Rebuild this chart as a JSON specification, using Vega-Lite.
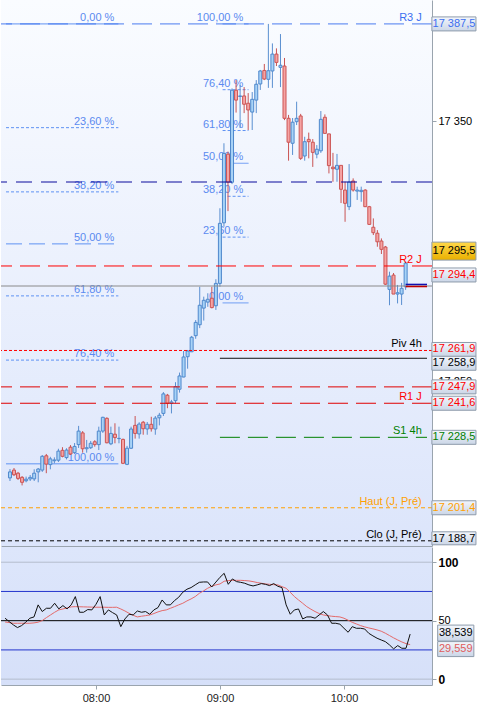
{
 "$schema": "https://vega.github.io/schema/vega-lite/v6.json",
 "padding": 0,
 "autosize": {"type": "pad"},
 "background": "#ffffff",
 "spacing": 1,
 "bounds": "flush",
 "config": {
  "font": "Liberation Sans",
  "view": {"stroke": null},
  "locale": {"number": {"decimal": ",", "thousands": " ", "grouping": [3], "currency": ["", " €"]}},
  "text": {"font": "Liberation Sans", "fontSize": 11}
 },
 "datasets": {
  "bars": [
   {"t":"2024-01-15T07:16","o":17212.9,"h":17216.3,"l":17211.7,"c":17215.2,"osc":52.1,"sig":48.9},
   {"t":"2024-01-15T07:18","o":17215.9,"h":17216.7,"l":17213.6,"c":17214.1,"osc":49.2,"sig":48.4},
   {"t":"2024-01-15T07:20","o":17214.7,"h":17215.2,"l":17212.1,"c":17212.7,"osc":46.4,"sig":47.8},
   {"t":"2024-01-15T07:22","o":17213.1,"h":17213.6,"l":17210.0,"c":17211.2,"osc":44.1,"sig":47.8},
   {"t":"2024-01-15T07:24","o":17211.8,"h":17213.4,"l":17211.2,"c":17212.4,"osc":45.8,"sig":47.8},
   {"t":"2024-01-15T07:26","o":17212.5,"h":17214.0,"l":17211.7,"c":17213.1,"osc":48.7,"sig":47.8},
   {"t":"2024-01-15T07:28","o":17212.5,"h":17216.2,"l":17211.7,"c":17214.7,"osc":52.1,"sig":47.8},
   {"t":"2024-01-15T07:30","o":17215.2,"h":17216.7,"l":17211.2,"c":17216.3,"osc":53.2,"sig":48.1},
   {"t":"2024-01-15T07:32","o":17215.9,"h":17221.7,"l":17215.2,"c":17221.2,"osc":63.5,"sig":48.7},
   {"t":"2024-01-15T07:34","o":17221.4,"h":17222.1,"l":17214.7,"c":17218.2,"osc":57.8,"sig":50.1},
   {"t":"2024-01-15T07:36","o":17218.0,"h":17221.0,"l":17216.2,"c":17220.2,"osc":60.6,"sig":52.6},
   {"t":"2024-01-15T07:38","o":17219.5,"h":17220.8,"l":17218.5,"c":17219.8,"osc":60.6,"sig":54.9},
   {"t":"2024-01-15T07:40","o":17219.7,"h":17224.1,"l":17219.0,"c":17223.2,"osc":64.9,"sig":57.2},
   {"t":"2024-01-15T07:42","o":17223.5,"h":17224.7,"l":17220.8,"c":17221.2,"osc":60.1,"sig":59.2},
   {"t":"2024-01-15T07:44","o":17220.7,"h":17224.3,"l":17220.0,"c":17223.6,"osc":62.9,"sig":60.0},
   {"t":"2024-01-15T07:46","o":17224.7,"h":17225.5,"l":17221.7,"c":17222.1,"osc":60.1,"sig":60.9},
   {"t":"2024-01-15T07:48","o":17222.6,"h":17226.3,"l":17222.1,"c":17225.0,"osc":63.5,"sig":61.8},
   {"t":"2024-01-15T07:50","o":17225.7,"h":17232.9,"l":17224.4,"c":17230.9,"osc":70.6,"sig":62.0},
   {"t":"2024-01-15T07:52","o":17230.2,"h":17230.9,"l":17222.6,"c":17224.1,"osc":57.2,"sig":61.9},
   {"t":"2024-01-15T07:54","o":17224.1,"h":17227.5,"l":17222.6,"c":17224.5,"osc":57.2,"sig":61.8},
   {"t":"2024-01-15T07:56","o":17224.5,"h":17227.1,"l":17224.0,"c":17226.2,"osc":59.5,"sig":61.7},
   {"t":"2024-01-15T07:58","o":17226.8,"h":17227.4,"l":17224.9,"c":17225.7,"osc":59.2,"sig":61.6},
   {"t":"2024-01-15T08:00","o":17225.7,"h":17232.6,"l":17223.6,"c":17230.9,"osc":64.0,"sig":61.5},
   {"t":"2024-01-15T08:02","o":17230.9,"h":17236.4,"l":17230.2,"c":17236.2,"osc":70.6,"sig":61.5},
   {"t":"2024-01-15T08:04","o":17235.8,"h":17236.2,"l":17226.2,"c":17226.4,"osc":54.9,"sig":61.5},
   {"t":"2024-01-15T08:06","o":17226.0,"h":17232.6,"l":17225.5,"c":17230.0,"osc":59.2,"sig":61.4},
   {"t":"2024-01-15T08:08","o":17229.7,"h":17233.9,"l":17226.2,"c":17228.4,"osc":56.9,"sig":61.4},
   {"t":"2024-01-15T08:10","o":17228.0,"h":17232.6,"l":17226.2,"c":17228.1,"osc":54.9,"sig":61.5},
   {"t":"2024-01-15T08:12","o":17227.7,"h":17228.0,"l":17218.2,"c":17218.5,"osc":44.9,"sig":60.0},
   {"t":"2024-01-15T08:14","o":17218.1,"h":17225.2,"l":17217.8,"c":17224.3,"osc":51.5,"sig":58.3},
   {"t":"2024-01-15T08:16","o":17224.3,"h":17232.6,"l":17224.0,"c":17231.7,"osc":55.5,"sig":56.3},
   {"t":"2024-01-15T08:18","o":17233.1,"h":17236.7,"l":17228.0,"c":17230.0,"osc":54.9,"sig":54.6},
   {"t":"2024-01-15T08:20","o":17229.8,"h":17234.3,"l":17228.0,"c":17233.6,"osc":58.3,"sig":53.2},
   {"t":"2024-01-15T08:22","o":17234.3,"h":17234.8,"l":17229.5,"c":17231.8,"osc":57.2,"sig":53.8},
   {"t":"2024-01-15T08:24","o":17231.7,"h":17234.4,"l":17229.5,"c":17233.5,"osc":57.8,"sig":54.3},
   {"t":"2024-01-15T08:26","o":17233.5,"h":17236.4,"l":17230.7,"c":17231.8,"osc":55.5,"sig":54.9},
   {"t":"2024-01-15T08:28","o":17231.7,"h":17236.7,"l":17229.5,"c":17235.9,"osc":59.2,"sig":56.1},
   {"t":"2024-01-15T08:30","o":17236.0,"h":17237.9,"l":17233.1,"c":17237.0,"osc":61.2,"sig":57.5},
   {"t":"2024-01-15T08:32","o":17237.7,"h":17245.9,"l":17236.7,"c":17245.2,"osc":67.7,"sig":58.6},
   {"t":"2024-01-15T08:34","o":17244.7,"h":17245.2,"l":17239.7,"c":17241.6,"osc":63.5,"sig":59.2},
   {"t":"2024-01-15T08:36","o":17241.6,"h":17242.9,"l":17237.7,"c":17242.1,"osc":63.5,"sig":60.6},
   {"t":"2024-01-15T08:38","o":17242.6,"h":17249.7,"l":17241.6,"c":17248.0,"osc":67.2,"sig":62.0},
   {"t":"2024-01-15T08:40","o":17247.0,"h":17253.4,"l":17245.7,"c":17252.1,"osc":70.0,"sig":63.5},
   {"t":"2024-01-15T08:42","o":17251.7,"h":17261.7,"l":17251.6,"c":17259.4,"osc":74.3,"sig":64.9},
   {"t":"2024-01-15T08:44","o":17259.5,"h":17262.1,"l":17254.9,"c":17261.7,"osc":76.9,"sig":66.9},
   {"t":"2024-01-15T08:46","o":17261.4,"h":17267.5,"l":17261.3,"c":17267.0,"osc":78.3,"sig":68.6},
   {"t":"2024-01-15T08:48","o":17267.6,"h":17273.6,"l":17266.4,"c":17272.7,"osc":80.6,"sig":70.6},
   {"t":"2024-01-15T08:50","o":17271.8,"h":17286.4,"l":17270.5,"c":17279.3,"osc":82.8,"sig":73.4},
   {"t":"2024-01-15T08:52","o":17278.2,"h":17282.6,"l":17273.4,"c":17281.2,"osc":83.1,"sig":75.4},
   {"t":"2024-01-15T08:54","o":17280.5,"h":17283.9,"l":17278.7,"c":17281.6,"osc":83.1,"sig":77.7},
   {"t":"2024-01-15T08:56","o":17282.0,"h":17286.4,"l":17278.1,"c":17278.4,"osc":78.8,"sig":79.4},
   {"t":"2024-01-15T08:58","o":17279.1,"h":17289.3,"l":17277.5,"c":17287.7,"osc":83.0,"sig":80.6},
   {"t":"2024-01-15T09:00","o":17287.7,"h":17316.6,"l":17286.4,"c":17310.8,"osc":87.1,"sig":81.4},
   {"t":"2024-01-15T09:02","o":17311.0,"h":17341.6,"l":17309.5,"c":17337.7,"osc":90.5,"sig":83.7},
   {"t":"2024-01-15T09:04","o":17337.4,"h":17338.4,"l":17315.5,"c":17326.6,"osc":81.1,"sig":84.3},
   {"t":"2024-01-15T09:06","o":17326.6,"h":17362.7,"l":17325.9,"c":17362.0,"osc":85.7,"sig":84.5},
   {"t":"2024-01-15T09:08","o":17362.0,"h":17365.9,"l":17353.4,"c":17358.2,"osc":83.4,"sig":84.5},
   {"t":"2024-01-15T09:10","o":17359.6,"h":17364.0,"l":17347.5,"c":17359.8,"osc":82.8,"sig":84.5},
   {"t":"2024-01-15T09:12","o":17359.8,"h":17363.2,"l":17353.2,"c":17356.6,"osc":82.0,"sig":84.3},
   {"t":"2024-01-15T09:14","o":17357.0,"h":17360.9,"l":17346.7,"c":17354.4,"osc":80.6,"sig":84.0},
   {"t":"2024-01-15T09:16","o":17353.6,"h":17361.3,"l":17346.7,"c":17358.5,"osc":79.7,"sig":83.4},
   {"t":"2024-01-15T09:18","o":17358.2,"h":17365.9,"l":17353.2,"c":17364.3,"osc":80.6,"sig":82.6},
   {"t":"2024-01-15T09:20","o":17364.4,"h":17369.8,"l":17362.1,"c":17369.4,"osc":81.7,"sig":82.0},
   {"t":"2024-01-15T09:22","o":17369.6,"h":17372.1,"l":17365.9,"c":17366.3,"osc":81.1,"sig":81.4},
   {"t":"2024-01-15T09:24","o":17366.2,"h":17387.5,"l":17362.9,"c":17369.5,"osc":80.0,"sig":81.1},
   {"t":"2024-01-15T09:26","o":17369.4,"h":17380.0,"l":17362.9,"c":17375.9,"osc":81.7,"sig":80.8},
   {"t":"2024-01-15T09:28","o":17375.9,"h":17378.1,"l":17371.3,"c":17372.7,"osc":79.4,"sig":80.6},
   {"t":"2024-01-15T09:30","o":17370.8,"h":17383.6,"l":17363.2,"c":17371.6,"osc":78.3,"sig":79.1},
   {"t":"2024-01-15T09:32","o":17371.3,"h":17374.4,"l":17350.5,"c":17351.2,"osc":63.5,"sig":77.7},
   {"t":"2024-01-15T09:34","o":17351.2,"h":17352.5,"l":17334.9,"c":17342.0,"osc":55.5,"sig":74.3},
   {"t":"2024-01-15T09:36","o":17341.6,"h":17351.3,"l":17337.1,"c":17349.7,"osc":59.2,"sig":70.6},
   {"t":"2024-01-15T09:38","o":17349.9,"h":17357.6,"l":17348.6,"c":17351.2,"osc":60.0,"sig":67.7},
   {"t":"2024-01-15T09:40","o":17352.1,"h":17352.9,"l":17335.2,"c":17335.8,"osc":51.5,"sig":64.9},
   {"t":"2024-01-15T09:42","o":17336.7,"h":17344.1,"l":17334.9,"c":17342.2,"osc":53.2,"sig":62.0},
   {"t":"2024-01-15T09:44","o":17343.1,"h":17345.7,"l":17335.8,"c":17342.2,"osc":53.2,"sig":59.8},
   {"t":"2024-01-15T09:46","o":17342.0,"h":17343.2,"l":17332.5,"c":17338.1,"osc":52.1,"sig":57.8},
   {"t":"2024-01-15T09:48","o":17337.4,"h":17340.9,"l":17335.8,"c":17339.3,"osc":54.9,"sig":56.1},
   {"t":"2024-01-15T09:50","o":17338.7,"h":17354.0,"l":17337.9,"c":17350.8,"osc":57.8,"sig":54.9},
   {"t":"2024-01-15T09:52","o":17351.6,"h":17352.7,"l":17345.4,"c":17345.4,"osc":54.9,"sig":54.3},
   {"t":"2024-01-15T09:54","o":17345.2,"h":17345.2,"l":17330.0,"c":17333.0,"osc":47.8,"sig":53.8},
   {"t":"2024-01-15T09:56","o":17332.4,"h":17337.9,"l":17326.8,"c":17331.8,"osc":47.8,"sig":53.5},
   {"t":"2024-01-15T09:58","o":17331.6,"h":17337.5,"l":17326.8,"c":17333.1,"osc":47.0,"sig":53.2},
   {"t":"2024-01-15T10:00","o":17333.1,"h":17333.1,"l":17318.6,"c":17323.9,"osc":43.5,"sig":52.1},
   {"t":"2024-01-15T10:02","o":17323.6,"h":17326.8,"l":17311.4,"c":17318.5,"osc":40.1,"sig":50.4},
   {"t":"2024-01-15T10:04","o":17317.2,"h":17333.6,"l":17315.9,"c":17326.7,"osc":44.9,"sig":48.6},
   {"t":"2024-01-15T10:06","o":17327.1,"h":17328.1,"l":17323.0,"c":17323.6,"osc":43.5,"sig":47.2},
   {"t":"2024-01-15T10:08","o":17323.2,"h":17324.9,"l":17319.8,"c":17323.6,"osc":43.5,"sig":45.8},
   {"t":"2024-01-15T10:10","o":17323.0,"h":17324.9,"l":17319.1,"c":17323.5,"osc":42.9,"sig":44.7},
   {"t":"2024-01-15T10:12","o":17323.6,"h":17323.9,"l":17317.1,"c":17317.2,"osc":39.2,"sig":43.8},
   {"t":"2024-01-15T10:14","o":17317.2,"h":17317.5,"l":17310.2,"c":17310.4,"osc":37.0,"sig":43.0},
   {"t":"2024-01-15T10:16","o":17309.3,"h":17312.7,"l":17306.3,"c":17307.2,"osc":35.0,"sig":42.1},
   {"t":"2024-01-15T10:18","o":17307.0,"h":17308.2,"l":17301.8,"c":17303.7,"osc":33.5,"sig":41.0},
   {"t":"2024-01-15T10:20","o":17304.0,"h":17305.0,"l":17299.0,"c":17300.8,"osc":32.1,"sig":39.3},
   {"t":"2024-01-15T10:22","o":17301.7,"h":17302.1,"l":17287.1,"c":17287.4,"osc":29.3,"sig":37.3},
   {"t":"2024-01-15T10:24","o":17285.4,"h":17292.2,"l":17279.3,"c":17290.5,"osc":25.9,"sig":35.3},
   {"t":"2024-01-15T10:26","o":17290.9,"h":17291.7,"l":17283.6,"c":17283.6,"osc":28.7,"sig":33.5},
   {"t":"2024-01-15T10:28","o":17283.6,"h":17287.1,"l":17280.0,"c":17284.1,"osc":26.4,"sig":31.8},
   {"t":"2024-01-15T10:30","o":17283.6,"h":17287.9,"l":17279.4,"c":17285.8,"osc":26.4,"sig":30.4},
   {"t":"2024-01-15T10:32","o":17286.4,"h":17296.0,"l":17285.2,"c":17295.5,"osc":38.539,"sig":29.559}
  ],
  "pivFull": [
   {"name":"R3 J","p":17387.5},
   {"name":"Nav","p":17326.7},
   {"name":"R2 J","p":17294.4},
   {"name":"Gray","p":17286.7},
   {"name":"Piv 4h","p":17261.9},
   {"name":"R4h","p":17247.9},
   {"name":"R1 J","p":17241.6},
   {"name":"Haut (J, Pré)","p":17201.4},
   {"name":"Clo (J, Pré)","p":17188.7}
  ],
  "pivPart": [
   {"name":"Pivline","p":17258.9},
   {"name":"S1 4h","p":17228.5}
  ],
  "pivLabels": [
   {"name":"R3 J","p":17387.5},
   {"name":"R2 J","p":17294.4},
   {"name":"Piv 4h","p":17261.9},
   {"name":"R1 J","p":17241.6},
   {"name":"S1 4h","p":17228.5},
   {"name":"Haut (J, Pré)","p":17201.4},
   {"name":"Clo (J, Pré)","p":17188.7}
  ],
  "lastMark": [
   {"name":"bid","p":17287.3},
   {"name":"ask","p":17286.5}
  ],
  "fibL": [
   {"pct":"0,00 %","p":17387.5},
   {"pct":"23,60 %","p":17347.6},
   {"pct":"38,20 %","p":17322.9},
   {"pct":"50,00 %","p":17302.9},
   {"pct":"61,80 %","p":17282.9},
   {"pct":"76,40 %","p":17258.2},
   {"pct":"100,00 %","p":17218.3}
  ],
  "fibR": [
   {"pct":"100,00 %","p":17387.5},
   {"pct":"76,40 %","p":17362.2},
   {"pct":"61,80 %","p":17346.5},
   {"pct":"50,00 %","p":17333.9},
   {"pct":"38,20 %","p":17321.2},
   {"pct":"23,60 %","p":17305.5},
   {"pct":"0,00 %","p":17280.2}
  ],
  "tags": [
   {"name":"R3 J","p":17387.5},
   {"name":"Last","p":17295.5},
   {"name":"R2 J","p":17294.4},
   {"name":"Piv 4h","p":17261.9},
   {"name":"Pivline","p":17258.9},
   {"name":"R4h","p":17247.9},
   {"name":"R1 J","p":17241.6},
   {"name":"S1 4h","p":17228.5},
   {"name":"Haut","p":17201.4},
   {"name":"Clo","p":17188.7}
  ],
  "oscLevels": [{"v":100},{"v":75},{"v":50},{"v":25},{"v":0}],
  "oscTags": [{"name":"osc","v":38.539},{"name":"sig","v":29.559}]
 },
 "vconcat": [
  {
   "width": 431,
   "height": 546,
   "resolve": {"scale": {"color": "independent", "strokeDash": "independent"}, "axis": {"x": "independent", "y": "independent"}},
   "layer": [
    {
     "data": {"values": [{}]},
     "mark": {"type": "rect", "fill": {"gradient": "linear", "x1": 0, "y1": 0, "x2": 0, "y2": 1, "stops": [{"offset": 0, "color": "#fafcff"}, {"offset": 1, "color": "#dce5fb"}]}},
     "encoding": {}
    },
    {
     "data": {"name": "fibL"},
     "mark": {"type": "rule", "strokeWidth": 1, "color": "#5f92f3"},
     "encoding": {
      "x": {"datum": {"year":2024,"month":1,"date":15,"hours":7,"minutes":14,"seconds":2}, "type": "temporal", "axis": null},
      "x2": {"datum": {"year":2024,"month":1,"date":15,"hours":8,"minutes":9,"seconds":42}},
      "y": {"field": "p", "type": "quantitative", "axis": null},
      "strokeDash": {"field": "pct", "type": "nominal", "legend": null, "scale": {"domain": ["0,00 %","23,60 %","38,20 %","50,00 %","61,80 %","76,40 %","100,00 %"], "range": [[1,0],[3,2],[3,2],[16,7],[3,2],[3,2],[1,0]]}}
     }
    },
    {
     "data": {"name": "fibR"},
     "mark": {"type": "rule", "strokeWidth": 1, "color": "#5f92f3"},
     "encoding": {
      "x": {"datum": {"year":2024,"month":1,"date":15,"hours":9,"minutes":1,"seconds":20}, "type": "temporal", "axis": null},
      "x2": {"datum": {"year":2024,"month":1,"date":15,"hours":9,"minutes":14,"seconds":10}},
      "y": {"field": "p", "type": "quantitative", "axis": null},
      "strokeDash": {"field": "pct", "type": "nominal", "legend": null, "scale": {"domain": ["0,00 %","23,60 %","38,20 %","50,00 %","61,80 %","76,40 %","100,00 %"], "range": [[1,0],[3,2],[3,2],[1,0],[3,2],[3,2],[1,0]]}}
     }
    },
    {
     "data": {"name": "fibL"},
     "mark": {"type": "text", "align": "right", "baseline": "bottom", "dy": -1, "color": "#5b8af0", "fontSize": 11},
     "encoding": {
      "x": {"datum": {"year":2024,"month":1,"date":15,"hours":8,"minutes":7,"seconds":42}, "type": "temporal", "axis": null},
      "y": {"field": "p", "type": "quantitative", "axis": null},
      "text": {"field": "pct"}
     }
    },
    {
     "data": {"name": "fibR"},
     "mark": {"type": "text", "align": "right", "baseline": "bottom", "dy": -1, "color": "#5b8af0", "fontSize": 11},
     "encoding": {
      "x": {"datum": {"year":2024,"month":1,"date":15,"hours":9,"minutes":11,"seconds":36}, "type": "temporal", "axis": null},
      "y": {"field": "p", "type": "quantitative", "axis": null},
      "text": {"field": "pct"}
     }
    },
    {
     "data": {"name": "bars"},
     "mark": {"type": "rule", "strokeWidth": 1},
     "encoding": {
      "x": {"field": "t", "type": "temporal",
            "scale": {"domain": [{"year":2024,"month":1,"date":15,"hours":7,"minutes":14,"seconds":2}, {"year":2024,"month":1,"date":15,"hours":10,"minutes":42,"seconds":35}], "nice": false},
            "axis": {"labels": false, "ticks": false, "grid": false, "title": null, "domain": true, "domainColor": "#9aa4ae"}},
      "y": {"field": "l", "type": "quantitative",
            "scale": {"domain": [17186.7, 17396.7], "zero": false, "nice": false},
            "axis": {"orient": "right", "values": [17250, 17350], "format": ",.0f", "title": null, "grid": false, "domainColor": "#9aa4ae", "tickColor": "#9aa4ae", "tickSize": 4, "labelPadding": 2, "labelColor": "#000000", "labelFontSize": 11, "labelFont": "Liberation Sans"}},
      "y2": {"field": "h"},
      "color": {"condition": {"test": "datum.c >= datum.o", "value": "#5a8fd0"}, "value": "#c95353"}
     }
    },
    {
     "data": {"name": "bars"},
     "mark": {"type": "bar", "size": 3, "strokeWidth": 1},
     "encoding": {
      "x": {"field": "t", "type": "temporal", "axis": null},
      "y": {"field": "o", "type": "quantitative", "axis": null},
      "y2": {"field": "c"},
      "fill": {"condition": {"test": "datum.c >= datum.o", "value": "#a8d3f7"}, "value": "#f5a4a4"},
      "stroke": {"condition": {"test": "datum.c >= datum.o", "value": "#4f88cc"}, "value": "#cc5555"}
     }
    },
    {
     "data": {"name": "pivFull"},
     "mark": {"type": "rule", "strokeWidth": 1},
     "encoding": {
      "y": {"field": "p", "type": "quantitative", "axis": null},
      "color": {"field": "name", "type": "nominal", "legend": null, "scale": {"domain": ["R3 J","Nav","R2 J","Gray","Piv 4h","R4h","R1 J","Haut (J, Pré)","Clo (J, Pré)"], "range": ["#4a7cf0","#0a0a9c","#ff0000","#8a8a8a","#ff0000","#e00000","#e00000","#ffa000","#000000"]}},
      "strokeDash": {"field": "name", "type": "nominal", "legend": null, "scale": {"domain": ["R3 J","Nav","R2 J","Gray","Piv 4h","R4h","R1 J","Haut (J, Pré)","Clo (J, Pré)"], "range": [[20,8],[16,9],[20,8],[1,0],[3,2],[20,8],[20,8],[4,3],[4,3]]}}
     }
    },
    {
     "data": {"name": "pivPart"},
     "mark": {"type": "rule", "strokeWidth": 1},
     "encoding": {
      "x": {"datum": {"year":2024,"month":1,"date":15,"hours":9,"minutes":0}, "type": "temporal", "axis": null},
      "x2": {"datum": {"year":2024,"month":1,"date":15,"hours":10,"minutes":42,"seconds":35}},
      "y": {"field": "p", "type": "quantitative", "axis": null},
      "color": {"field": "name", "type": "nominal", "legend": null, "scale": {"domain": ["Pivline","S1 4h"], "range": ["#000000","#008000"]}},
      "strokeDash": {"field": "name", "type": "nominal", "legend": null, "scale": {"domain": ["Pivline","S1 4h"], "range": [[1,0],[20,8]]}}
     }
    },
    {
     "data": {"name": "lastMark"},
     "mark": {"type": "rule", "strokeWidth": 1.5},
     "encoding": {
      "x": {"datum": {"year":2024,"month":1,"date":15,"hours":10,"minutes":32}, "type": "temporal", "axis": null},
      "x2": {"datum": {"year":2024,"month":1,"date":15,"hours":10,"minutes":42,"seconds":35}},
      "y": {"field": "p", "type": "quantitative", "axis": null},
      "color": {"field": "name", "type": "nominal", "legend": null, "scale": {"domain": ["bid","ask"], "range": ["#1010b0","#c00000"]}}
     }
    },
    {
     "data": {"name": "pivLabels"},
     "mark": {"type": "text", "align": "right", "baseline": "bottom", "dy": -1, "fontSize": 11},
     "encoding": {
      "x": {"datum": {"year":2024,"month":1,"date":15,"hours":10,"minutes":40}, "type": "temporal", "axis": null},
      "y": {"field": "p", "type": "quantitative", "axis": null},
      "text": {"field": "name"},
      "color": {"field": "name", "type": "nominal", "legend": null, "scale": {"domain": ["R3 J","R2 J","Piv 4h","R1 J","S1 4h","Haut (J, Pré)","Clo (J, Pré)"], "range": ["#3b6ef0","#ff0000","#000000","#ff0000","#008000","#ffa000","#000000"]}}
     }
    },
    {
     "data": {"name": "tags"},
     "transform": [{"filter": "indexof(['Last','R2 J','Piv 4h','Pivline','Clo'], datum.name) < 0"}],
     "layer": [
      {
       "mark": {"type": "rect", "yOffset": -7, "y2Offset": 7, "stroke": "#8e9bab", "strokeWidth": 1, "fill": {"gradient": "linear", "x1": 0, "y1": 0, "x2": 0, "y2": 1, "stops": [{"offset": 0, "color": "#f3f6fc"}, {"offset": 1, "color": "#cbd6e7"}]}},
       "encoding": {
        "x": {"datum": {"year":2024,"month":1,"date":15,"hours":10,"minutes":45}, "type": "temporal", "axis": null},
        "x2": {"datum": {"year":2024,"month":1,"date":15,"hours":11,"minutes":6,"seconds":50}},
        "y": {"field": "p", "type": "quantitative", "axis": null},
        "y2": {"field": "p"}
       }
      },
      {
       "mark": {"type": "text", "align": "center", "baseline": "middle", "fontSize": 11},
       "encoding": {
        "x": {"datum": {"year":2024,"month":1,"date":15,"hours":10,"minutes":55,"seconds":55}, "type": "temporal", "axis": null},
        "y": {"field": "p", "type": "quantitative", "axis": null},
        "text": {"field": "p", "type": "quantitative", "format": ",.1f"},
        "color": {"field": "name", "type": "nominal", "legend": null, "scale": {"domain": ["R3 J","R4h","R1 J","S1 4h","Haut"], "range": ["#3b6ef0","#ff0000","#ff0000","#008000","#ffa000"]}}
       }
      }
     ]
    },
    {
     "data": {"name": "tags"},
     "transform": [{"filter": "datum.name == 'Clo'"}],
     "layer": [
      {
       "mark": {"type": "rect", "yOffset": -9, "y2Offset": 4, "stroke": "#8e9bab", "strokeWidth": 1, "fill": {"gradient": "linear", "x1": 0, "y1": 0, "x2": 0, "y2": 1, "stops": [{"offset": 0, "color": "#f3f6fc"}, {"offset": 1, "color": "#cbd6e7"}]}},
       "encoding": {
        "x": {"datum": {"year":2024,"month":1,"date":15,"hours":10,"minutes":45}, "type": "temporal", "axis": null},
        "x2": {"datum": {"year":2024,"month":1,"date":15,"hours":11,"minutes":6,"seconds":50}},
        "y": {"field": "p", "type": "quantitative", "axis": null},
        "y2": {"field": "p"}
       }
      },
      {
       "mark": {"type": "text", "align": "center", "baseline": "middle", "fontSize": 11, "dy": -2, "color": "#000000"},
       "encoding": {
        "x": {"datum": {"year":2024,"month":1,"date":15,"hours":10,"minutes":55,"seconds":55}, "type": "temporal", "axis": null},
        "y": {"field": "p", "type": "quantitative", "axis": null},
        "text": {"field": "p", "type": "quantitative", "format": ",.1f"}
       }
      }
     ]
    },
    {
     "data": {"name": "tags"},
     "transform": [{"filter": "datum.name == 'R2 J'"}],
     "layer": [
      {
       "mark": {"type": "rect", "yOffset": 2, "y2Offset": 16, "stroke": "#8e9bab", "strokeWidth": 1, "fill": {"gradient": "linear", "x1": 0, "y1": 0, "x2": 0, "y2": 1, "stops": [{"offset": 0, "color": "#f3f6fc"}, {"offset": 1, "color": "#cbd6e7"}]}},
       "encoding": {
        "x": {"datum": {"year":2024,"month":1,"date":15,"hours":10,"minutes":45}, "type": "temporal", "axis": null},
        "x2": {"datum": {"year":2024,"month":1,"date":15,"hours":11,"minutes":6,"seconds":50}},
        "y": {"field": "p", "type": "quantitative", "axis": null},
        "y2": {"field": "p"}
       }
      },
      {
       "mark": {"type": "text", "align": "center", "baseline": "middle", "fontSize": 11, "dy": 9, "color": "#ff0000"},
       "encoding": {
        "x": {"datum": {"year":2024,"month":1,"date":15,"hours":10,"minutes":55,"seconds":55}, "type": "temporal", "axis": null},
        "y": {"field": "p", "type": "quantitative", "axis": null},
        "text": {"field": "p", "type": "quantitative", "format": ",.1f"}
       }
      }
     ]
    },
    {
     "data": {"name": "tags"},
     "transform": [{"filter": "datum.name == 'Piv 4h'"}],
     "layer": [
      {
       "mark": {"type": "rect", "yOffset": -8, "y2Offset": 6, "stroke": "#8e9bab", "strokeWidth": 1, "fill": {"gradient": "linear", "x1": 0, "y1": 0, "x2": 0, "y2": 1, "stops": [{"offset": 0, "color": "#f3f6fc"}, {"offset": 1, "color": "#cbd6e7"}]}},
       "encoding": {
        "x": {"datum": {"year":2024,"month":1,"date":15,"hours":10,"minutes":45}, "type": "temporal", "axis": null},
        "x2": {"datum": {"year":2024,"month":1,"date":15,"hours":11,"minutes":6,"seconds":50}},
        "y": {"field": "p", "type": "quantitative", "axis": null},
        "y2": {"field": "p"}
       }
      },
      {
       "mark": {"type": "text", "align": "center", "baseline": "middle", "fontSize": 11, "dy": -1, "color": "#ff0000"},
       "encoding": {
        "x": {"datum": {"year":2024,"month":1,"date":15,"hours":10,"minutes":55,"seconds":55}, "type": "temporal", "axis": null},
        "y": {"field": "p", "type": "quantitative", "axis": null},
        "text": {"field": "p", "type": "quantitative", "format": ",.1f"}
       }
      }
     ]
    },
    {
     "data": {"name": "tags"},
     "transform": [{"filter": "datum.name == 'Pivline'"}],
     "layer": [
      {
       "mark": {"type": "rect", "yOffset": -2, "y2Offset": 12, "stroke": "#8e9bab", "strokeWidth": 1, "fill": {"gradient": "linear", "x1": 0, "y1": 0, "x2": 0, "y2": 1, "stops": [{"offset": 0, "color": "#f3f6fc"}, {"offset": 1, "color": "#cbd6e7"}]}},
       "encoding": {
        "x": {"datum": {"year":2024,"month":1,"date":15,"hours":10,"minutes":45}, "type": "temporal", "axis": null},
        "x2": {"datum": {"year":2024,"month":1,"date":15,"hours":11,"minutes":6,"seconds":50}},
        "y": {"field": "p", "type": "quantitative", "axis": null},
        "y2": {"field": "p"}
       }
      },
      {
       "mark": {"type": "text", "align": "center", "baseline": "middle", "fontSize": 11, "dy": 5, "color": "#000000"},
       "encoding": {
        "x": {"datum": {"year":2024,"month":1,"date":15,"hours":10,"minutes":55,"seconds":55}, "type": "temporal", "axis": null},
        "y": {"field": "p", "type": "quantitative", "axis": null},
        "text": {"field": "p", "type": "quantitative", "format": ",.1f"}
       }
      }
     ]
    },
    {
     "data": {"name": "tags"},
     "transform": [{"filter": "datum.name == 'Last'"}],
     "layer": [
      {
       "mark": {"type": "rect", "yOffset": -21, "y2Offset": -3, "stroke": "#8e9bab", "strokeWidth": 1, "fill": {"gradient": "linear", "x1": 0, "y1": 0, "x2": 0, "y2": 1, "stops": [{"offset": 0, "color": "#ffd84a"}, {"offset": 1, "color": "#e9b000"}]}},
       "encoding": {
        "x": {"datum": {"year":2024,"month":1,"date":15,"hours":10,"minutes":45}, "type": "temporal", "axis": null},
        "x2": {"datum": {"year":2024,"month":1,"date":15,"hours":11,"minutes":6,"seconds":50}},
        "y": {"field": "p", "type": "quantitative", "axis": null},
        "y2": {"field": "p"}
       }
      },
      {
       "mark": {"type": "text", "align": "center", "baseline": "middle", "fontSize": 11, "dy": -12, "color": "#000000"},
       "encoding": {
        "x": {"datum": {"year":2024,"month":1,"date":15,"hours":10,"minutes":55,"seconds":55}, "type": "temporal", "axis": null},
        "y": {"field": "p", "type": "quantitative", "axis": null},
        "text": {"field": "p", "type": "quantitative", "format": ",.1f"}
       }
      }
     ]
    }
   ]
  },
  {
   "width": 431,
   "height": 138,
   "resolve": {"scale": {"color": "independent"}, "axis": {"x": "independent", "y": "independent"}},
   "layer": [
    {
     "data": {"values": [{}]},
     "mark": {"type": "rect", "fill": {"gradient": "linear", "x1": 0, "y1": 0, "x2": 0, "y2": 1, "stops": [{"offset": 0, "color": "#dde6fb"}, {"offset": 1, "color": "#d6e0f9"}]}},
     "encoding": {}
    },
    {
     "data": {"name": "oscLevels"},
     "mark": {"type": "rule", "strokeWidth": 1},
     "encoding": {
      "y": {"field": "v", "type": "quantitative",
            "scale": {"domain": [-5, 113], "zero": false, "nice": false},
            "axis": {"orient": "right", "values": [0, 50, 100], "title": null, "grid": false, "domainColor": "#9aa4ae", "tickColor": "#9aa4ae", "tickSize": 4, "labelPadding": 2, "labelColor": "#000000", "labelFont": "Liberation Sans",
                     "labelFontSize": {"condition": {"test": "datum.value == 50", "value": 11}, "value": 12},
                     "labelFontWeight": {"condition": {"test": "datum.value == 50", "value": "normal"}, "value": "bold"}}},
      "color": {"field": "v", "type": "ordinal", "legend": null, "scale": {"domain": [0, 25, 50, 75, 100], "range": ["#b4bdcd", "#2233cc", "#000000", "#2233cc", "#b4bdcd"]}}
     }
    },
    {
     "data": {"name": "bars"},
     "mark": {"type": "line", "strokeWidth": 1, "color": "#e46a6a"},
     "encoding": {
      "x": {"field": "t", "type": "temporal",
            "scale": {"domain": [{"year":2024,"month":1,"date":15,"hours":7,"minutes":14,"seconds":2}, {"year":2024,"month":1,"date":15,"hours":10,"minutes":42,"seconds":35}], "nice": false},
            "axis": {"format": "%H:%M", "values": [{"year":2024,"month":1,"date":15,"hours":8}, {"year":2024,"month":1,"date":15,"hours":9}, {"year":2024,"month":1,"date":15,"hours":10}], "title": null, "grid": false, "tickSize": 4, "tickColor": "#9aa4ae", "domainColor": "#9aa4ae", "labelColor": "#222222", "labelFontSize": 11, "labelFont": "Liberation Sans", "labelPadding": 3}},
      "y": {"field": "sig", "type": "quantitative", "axis": null}
     }
    },
    {
     "data": {"name": "bars"},
     "mark": {"type": "line", "strokeWidth": 1, "color": "#111111"},
     "encoding": {
      "x": {"field": "t", "type": "temporal", "axis": null},
      "y": {"field": "osc", "type": "quantitative", "axis": null}
     }
    },
    {
     "data": {"name": "oscTags"},
     "transform": [{"filter": "datum.name == 'osc'"}],
     "layer": [
      {
       "mark": {"type": "rect", "yOffset": -9, "y2Offset": 7, "stroke": "#8e9bab", "strokeWidth": 1, "fill": {"gradient": "linear", "x1": 0, "y1": 0, "x2": 0, "y2": 1, "stops": [{"offset": 0, "color": "#f3f6fc"}, {"offset": 1, "color": "#cbd6e7"}]}},
       "encoding": {
        "x": {"datum": {"year":2024,"month":1,"date":15,"hours":10,"minutes":45,"seconds":20}, "type": "temporal", "axis": null},
        "x2": {"datum": {"year":2024,"month":1,"date":15,"hours":11,"minutes":2,"seconds":50}},
        "y": {"field": "v", "type": "quantitative", "axis": null},
        "y2": {"field": "v"}
       }
      },
      {
       "mark": {"type": "text", "align": "center", "baseline": "middle", "fontSize": 11, "dy": -1, "color": "#000000"},
       "encoding": {
        "x": {"datum": {"year":2024,"month":1,"date":15,"hours":10,"minutes":54,"seconds":5}, "type": "temporal", "axis": null},
        "y": {"field": "v", "type": "quantitative", "axis": null},
        "text": {"field": "v", "type": "quantitative", "format": ",.3f"}
       }
      }
     ]
    },
    {
     "data": {"name": "oscTags"},
     "transform": [{"filter": "datum.name == 'sig'"}],
     "layer": [
      {
       "mark": {"type": "rect", "yOffset": -3, "y2Offset": 12, "stroke": "#8e9bab", "strokeWidth": 1, "fill": {"gradient": "linear", "x1": 0, "y1": 0, "x2": 0, "y2": 1, "stops": [{"offset": 0, "color": "#f3f6fc"}, {"offset": 1, "color": "#cbd6e7"}]}},
       "encoding": {
        "x": {"datum": {"year":2024,"month":1,"date":15,"hours":10,"minutes":45,"seconds":20}, "type": "temporal", "axis": null},
        "x2": {"datum": {"year":2024,"month":1,"date":15,"hours":11,"minutes":2,"seconds":50}},
        "y": {"field": "v", "type": "quantitative", "axis": null},
        "y2": {"field": "v"}
       }
      },
      {
       "mark": {"type": "text", "align": "center", "baseline": "middle", "fontSize": 11, "dy": 4, "color": "#e05c5c"},
       "encoding": {
        "x": {"datum": {"year":2024,"month":1,"date":15,"hours":10,"minutes":54,"seconds":5}, "type": "temporal", "axis": null},
        "y": {"field": "v", "type": "quantitative", "axis": null},
        "text": {"field": "v", "type": "quantitative", "format": ",.3f"}
       }
      }
     ]
    }
   ]
  }
 ]
}
